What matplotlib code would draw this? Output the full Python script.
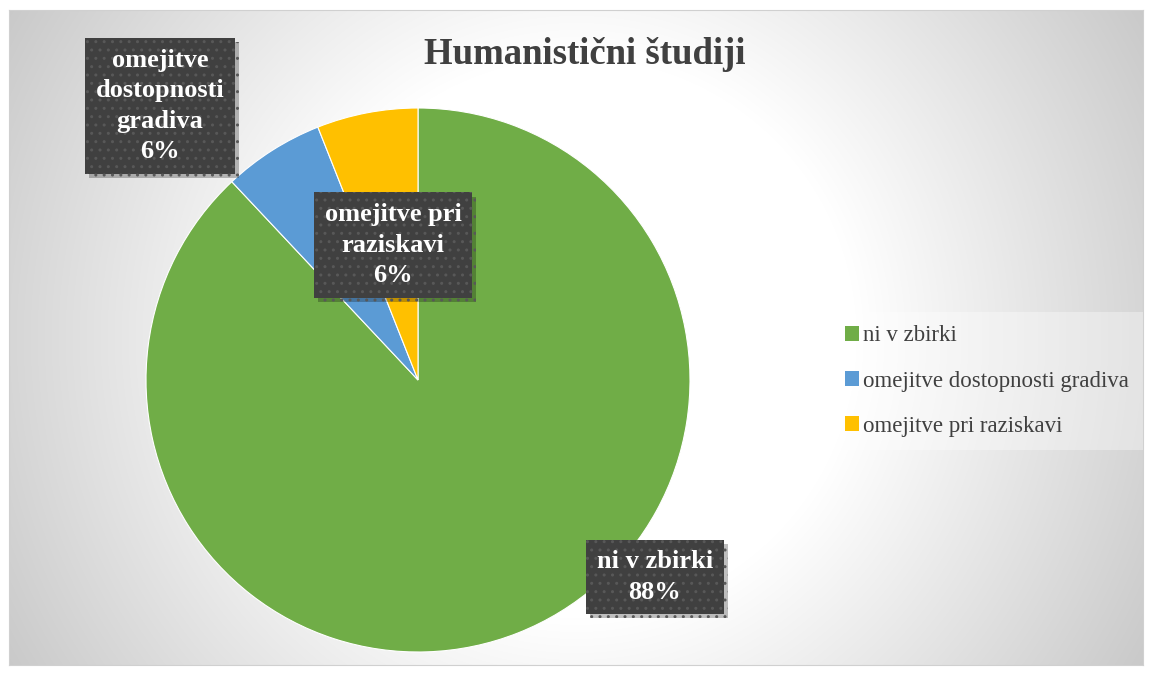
import numpy as np
import matplotlib.pyplot as plt
from matplotlib import patheffects as pe

plt.rcParams['font.family'] = ['Liberation Serif', 'DejaVu Serif']

# Podatki
kategorije = ['ni v zbirki', 'omejitve dostopnosti gradiva', 'omejitve pri raziskavi']
deleži = [88, 6, 6]
barve = ['#70AD47', '#5B9BD5', '#FFC000']
naslov = 'Humanistični študiji'

# položaji oznak (podatkovne koordinate osi pite)
pos_oznak = [(0.871, -0.724), (-0.949, 1.007), (-0.092, 0.496)]
oznake = ['ni v zbirki\n88%', 'omejitve\ndostopnosti\ngradiva\n6%', 'omejitve pri\nraziskavi\n6%']

W, H = 1151, 675
fig = plt.figure(figsize=(W / 100, H / 100), dpi=100)
fig.patch.set_facecolor('white')

# ozadje - radialni gradient iz sredine
bw, bh = 1134, 655
bg = fig.add_axes([9 / W, 10 / H, bw / W, bh / H])
xx, yy = np.meshgrid(np.arange(bw), np.arange(bh))
d = np.sqrt((xx - bw / 2) ** 2 + (yy - bh / 2) ** 2)
g = np.clip(255 - 0.143 * np.clip(d - 280, 0, None), 0, 255) / 255
bg.imshow(np.dstack([g, g, g]), aspect='auto', interpolation='bilinear')
bg.set_xticks([])
bg.set_yticks([])
for s in bg.spines.values():
    s.set_color('#d0d0d0')
    s.set_linewidth(0.8)

# pita
ax = fig.add_axes([146 / W, 23 / H, 544 / W, 544 / H])
ax.set_facecolor('none')
wedges, _ = ax.pie(deleži, colors=barve, startangle=90, counterclock=False,
                   radius=1, wedgeprops=dict(edgecolor='white', linewidth=0.8))
ax.set_xlim(-1, 1)
ax.set_ylim(-1, 1)
ax.set_aspect('equal')
ax.axis('off')

for (x, y), t in zip(pos_oznak, oznake):
    txt = ax.text(x, y, t, ha='center', va='center', fontsize=19, fontweight='bold',
                  color='white', linespacing=1.42, zorder=5,
                  bbox=dict(boxstyle='square,pad=0.4', facecolor='#404040',
                            edgecolor='#585858', linewidth=0, hatch='..'))
    txt.get_bbox_patch().set_path_effects([
        pe.SimplePatchShadow(offset=(3, -3), shadow_rgbFace='black', alpha=0.25),
        pe.Normal()])

fig.text(585 / W, 1 - 55 / H, naslov, ha='center', va='center', fontsize=26.5,
         fontweight='bold', color='#404040')

leg = fig.legend(wedges, kategorije, loc='center left',
                 bbox_to_anchor=(838 / W, 1 - 381 / H), frameon=True,
                 fontsize=16.5, handlelength=0.6, handleheight=0.6,
                 handletextpad=0.2, labelspacing=1.05, borderpad=0.3,
                 borderaxespad=0)
leg.get_frame().set_facecolor('white')
leg.get_frame().set_alpha(0.35)
leg.get_frame().set_edgecolor('none')
leg.get_frame().set_boxstyle('square')
for t in leg.get_texts():
    t.set_color('#404040')
for h in leg.legend_handles:
    h.set_edgecolor('none')

plt.savefig('out.png', dpi=100)
